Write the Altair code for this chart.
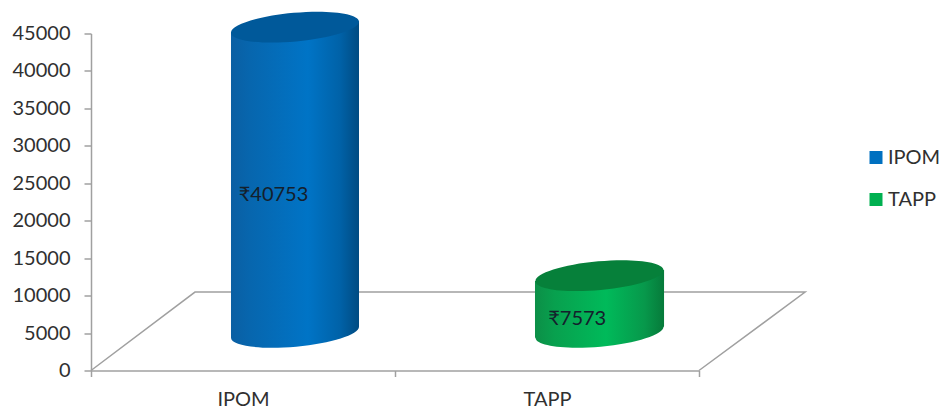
import altair as alt
import pandas as pd

# Series values and labels
categories = ["IPOM", "TAPP"]
values = [40753, 7573]
labels = ["₹40753", "₹7573"]
legend_colors = ["#0070C0", "#00B050"]

# Y axis ticks
y_ticks = [0, 5000, 10000, 15000, 20000, 25000, 30000, 35000, 40000, 45000]

# Pseudo-3D floor, in x units (one unit per category) and y-axis units
floor_x = [0, 0.342, 2.349, 2]
floor_y = [0, 10467, 10467, 0]

# Cylinder placement in the same units
cyl_left = [0.4605, 1.4605]
cyl_right = [0.8816, 1.8850]
base_lift = 5100
base_tilt = 735
label_x = [0.486, 1.504]
label_y = [23460, 6900]

font = "Lato"
ink = "#303030"
axis_grey = "#a0a0a0"

x_pos = alt.Scale(domain=[0, 2])
y_scale = alt.Scale(domain=[0, 45000], nice=False)
y_axis = alt.Axis(
    title=None, values=y_ticks, format="d", labelFont=font, labelFontSize=20,
    labelColor=ink, labelPadding=14, tickSize=7, tickColor=axis_grey, tickWidth=1.5,
    domainColor=axis_grey, domainWidth=1.5, grid=False,
)


def gradient(stops):
    return {
        "gradient": "linear", "x1": 0, "x2": 1, "y1": 0, "y2": 0,
        "stops": [{"offset": o, "color": c} for o, c in stops],
    }


side_fill = [
    gradient([(0, "#0A5FA3"), (0.15, "#0766AE"), (0.6, "#0074C6"), (0.85, "#0062A8"), (1, "#004B82")]),
    gradient([(0, "#0C8F47"), (0.15, "#08A04E"), (0.55, "#00BA5A"), (0.85, "#07984B"), (1, "#067A3A")]),
]
cap_fill = ["#00599A", "#06803A"]

# Unit ellipse tilted upward to the right, used as the end of each cylinder
ellipse = "M-0.996,0.09A1,0.224,-5.17,1,1,0.996,-0.09A1,0.224,-5.17,1,1,-0.996,0.09Z"
ellipse_size = 16512

series = pd.DataFrame({"category": categories, "value": values, "label": labels,
                       "lx": label_x, "ly": label_y})

# Axes and legend come from this layer; its points have no visible area
frame = alt.Chart(series).mark_point(filled=True, size=0, shape="square").encode(
    x=alt.X(
        "category:N",
        sort=categories,
        scale=alt.Scale(type="band", paddingInner=0, paddingOuter=0),
        axis=alt.Axis(
            title=None, tickBand="extent", labelAngle=0, labelFont=font, labelFontSize=20,
            labelColor=ink, labelPadding=13, tickSize=6, tickColor=axis_grey, tickWidth=1.5,
            domainColor=axis_grey, domainWidth=1.5, grid=False,
        ),
    ),
    y=alt.Y("value:Q", scale=y_scale, axis=y_axis),
    color=alt.Color(
        "category:N",
        scale=alt.Scale(domain=categories, range=legend_colors),
        legend=alt.Legend(
            title=None, orient="none", legendX=775, legendY=114, symbolType="square",
            symbolSize=169, symbolStrokeWidth=0, symbolOpacity=1, labelFont=font,
            labelFontSize=20, labelColor=ink, rowPadding=22, labelOffset=2,
        ),
    ),
)

floor = alt.Chart(pd.DataFrame({"x": floor_x, "y": floor_y, "step": range(len(floor_x))})).mark_line(
    color=axis_grey, strokeWidth=1.5
).encode(
    x=alt.X("x:Q", scale=x_pos, axis=None),
    y=alt.Y("y:Q", scale=y_scale, axis=y_axis),
    order="step:O",
)

layers = [floor, frame]
for i, category in enumerate(categories):
    centre = (cyl_left[i] + cyl_right[i]) / 2
    v = values[i]
    body = pd.DataFrame({
        "x": [cyl_left[i], cyl_right[i]],
        "top": [v + base_lift - base_tilt, v + base_lift + base_tilt],
        "bottom": [base_lift - base_tilt, base_lift + base_tilt],
    })
    ends = pd.DataFrame({"x": [centre], "base": [base_lift], "top": [v + base_lift]})

    layers.append(
        alt.Chart(ends).mark_point(
            shape=ellipse, size=ellipse_size, filled=True, opacity=1, fill=side_fill[i], strokeWidth=0
        ).encode(x=alt.X("x:Q", scale=x_pos, axis=None), y=alt.Y("base:Q", scale=y_scale, axis=y_axis))
    )
    layers.append(
        alt.Chart(body).mark_area(fill=side_fill[i], opacity=1).encode(
            x=alt.X("x:Q", scale=x_pos, axis=None),
            y=alt.Y("top:Q", scale=y_scale, axis=y_axis),
            y2="bottom:Q",
        )
    )
    layers.append(
        alt.Chart(ends).mark_point(
            shape=ellipse, size=ellipse_size, filled=True, opacity=1, fill=cap_fill[i], strokeWidth=0
        ).encode(x=alt.X("x:Q", scale=x_pos, axis=None), y=alt.Y("top:Q", scale=y_scale, axis=y_axis))
    )

text = alt.Chart(series).mark_text(
    align="left", baseline="middle", font=font, fontSize=20, color="#14202c"
).encode(
    x=alt.X("lx:Q", scale=x_pos, axis=None),
    y=alt.Y("ly:Q", scale=y_scale, axis=y_axis),
    text="label:N",
)
layers.append(text)

chart = (
    alt.layer(*layers)
    .resolve_scale(x="independent")
    .properties(
        width=608,
        height=337,
        padding={"left": 91, "top": 33.5, "right": 244, "bottom": 43.5},
        autosize=alt.AutoSizeParams(type="none"),
        background="white",
    )
    .configure_view(stroke=None)
)

chart.save("out.html", embed_options={"renderer": "svg", "actions": False})
